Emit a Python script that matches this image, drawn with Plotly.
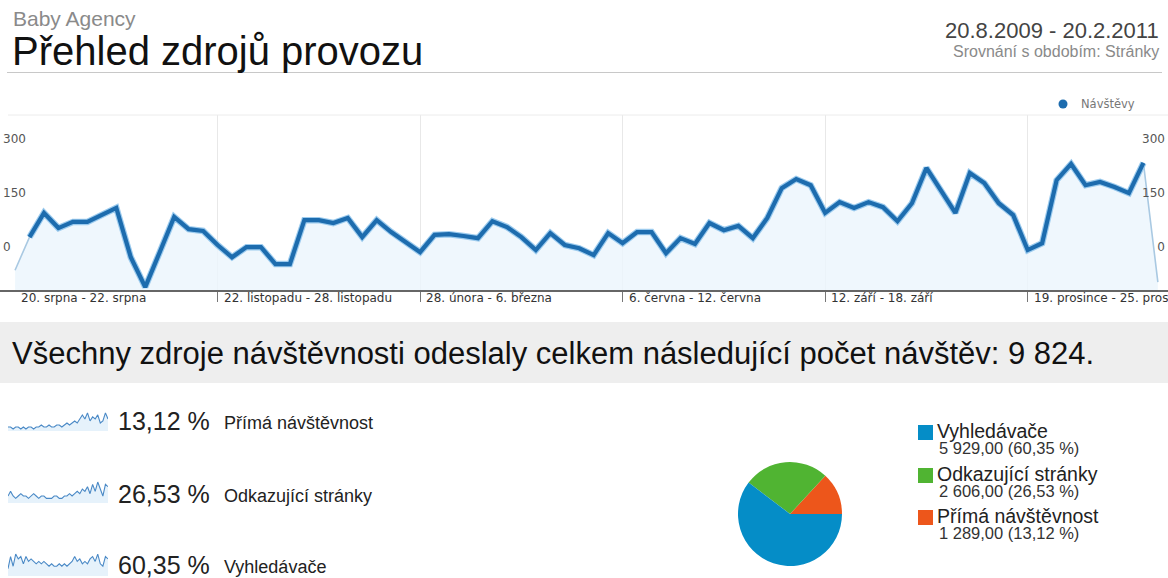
import plotly.graph_objects as go

W, H = 1168, 578

# ---------------- data ----------------
visits = [-65, 27, 94, 52, 69, 69, 88, 108, -29, -112,
          -15, 83, 49, 44, 5, -29, -1, -1, -48, -48,
          74, 74, 66, 80, 27, 74, 41, 13, -15, 33,
          35, 30, 24, 71, 55, 27, -9, 38, 5, -4,
          -23, 38, 10, 41, 41, -18, 24, 8, 66, 46,
          58, 24, 80, 163, 188, 171, 94, 124, 108, 124,
          110, 71, 121, 219, 158, 94, 205, 177, 121, 88,
          -9, 10, 185, 230, 171, 180, 166, 149, 233, -98]

period_labels = ["20. srpna - 22. srpna", "22. listopadu - 28. listopadu",
                 "28. února - 6. března", "6. června - 12. června",
                 "12. září - 18. září", "19. prosince - 25. prosince"]
period_index = [0, 14, 28, 42, 56, 70]
y_ticks = [0, 150, 300]

sources = ["Vyhledávače", "Odkazující stránky", "Přímá návštěvnost"]
source_visits = [5929, 2606, 1289]
source_values_text = ["5 929,00 (60,35 %)", "2 606,00 (26,53 %)", "1 289,00 (13,12 %)"]
source_share_text = ["60,35 %", "26,53 %", "13,12 %"]
total_text = "9 824"

spark_prima = [2, 2, 1, 2, 2, 1, 2, 1, 2, 2, 1, 2, 2, 3, 2, 2, 3, 2, 2, 3,
               3, 2, 3, 4, 3, 4, 5, 4, 6, 8, 6, 9, 5, 7, 6, 8, 4, 5, 9, 6]
spark_odkaz = [3, 5, 3, 2, 3, 4, 3, 3, 2, 3, 4, 3, 2, 3, 3, 2, 2, 2, 3, 3,
               2, 2, 3, 3, 4, 3, 4, 5, 4, 6, 5, 7, 4, 8, 5, 9, 6, 3, 8, 7]
spark_vyhled = [3, 8, 4, 9, 7, 8, 5, 8, 6, 7, 6, 5, 6, 5, 6, 5, 4, 5, 4, 4,
                5, 4, 5, 4, 5, 6, 8, 6, 7, 5, 6, 5, 7, 8, 6, 9, 5, 4, 8, 7]

# ---------------- helpers ----------------
def px(x):
    return x / W

def py(y):
    return 1 - y / H

Y_MIN, Y_MAX = -120, 366
X_MIN, X_MAX = -1.04, 79.7
BLUE = "#1d6cae"
ARIAL = "Liberation Sans, Arial, sans-serif"
VERD = "DejaVu Sans, Verdana, sans-serif"

xs = list(range(len(visits)))
fig = go.Figure()

# area fill under the line
fig.add_trace(go.Scatter(x=xs, y=[Y_MIN] * len(xs), mode="lines",
                         line=dict(width=0), hoverinfo="skip", showlegend=False))
fig.add_trace(go.Scatter(x=xs, y=visits, mode="lines", fill="tonexty",
                         fillcolor="rgba(235,245,252,0.8)", line=dict(width=0),
                         hoverinfo="skip", showlegend=False))
# partial-period (light) line
fig.add_trace(go.Scatter(x=xs, y=visits, mode="lines",
                         line=dict(color="#a9c9e2", width=1.6),
                         hoverinfo="skip", showlegend=False))
# main line with halo
fig.add_trace(go.Scatter(x=xs[1:-1], y=visits[1:-1], mode="lines",
                         line=dict(color="#9ccbee", width=6.5),
                         hoverinfo="skip", showlegend=False))
fig.add_trace(go.Scatter(x=xs[1:-1], y=visits[1:-1], mode="lines",
                         line=dict(color=BLUE, width=4.2),
                         name="Návštěvy", showlegend=False))
# invisible trace for right axis
fig.add_trace(go.Scatter(x=[xs[0]], y=[visits[0]], yaxis="y2", mode="lines",
                         line=dict(width=0), hoverinfo="skip", showlegend=False))

# sparklines
spark_rows = [(spark_prima, 412, 431), (spark_odkaz, 481, 503), (spark_vyhled, 553, 576)]
for i, (vals, top, bot) in enumerate(spark_rows):
    ax = i + 3
    fig.add_trace(go.Scatter(x=list(range(len(vals))), y=vals, mode="lines",
                             line=dict(color="#4a89c6", width=1.1),
                             fill="tozeroy", fillcolor="rgba(220,236,249,0.7)",
                             xaxis=f"x{ax}", yaxis=f"y{ax}",
                             hoverinfo="skip", showlegend=False))
    fig.layout[f"xaxis{ax}"] = dict(domain=[px(8), px(108)], visible=False,
                                    anchor=f"y{ax}", range=[0, len(vals) - 1])
    fig.layout[f"yaxis{ax}"] = dict(domain=[py(bot), py(top)], visible=False,
                                    anchor=f"x{ax}", range=[0, max(vals) * 1.05])

# pie (first slice = Přímá návštěvnost, placed in the upper-right quadrant
# just above 3 o'clock, others following counterclockwise)
pie_colors = {"Vyhledávače": "#058dc7", "Odkazující stránky": "#50b432",
              "Přímá návštěvnost": "#ed561b"}
pie_labels = sources[::-1]
pie_values = source_visits[::-1]
first_share_deg = 360 * pie_values[0] / sum(pie_values)
fig.add_trace(go.Pie(labels=pie_labels, values=pie_values,
                     marker=dict(colors=[pie_colors[s] for s in pie_labels],
                                 line=dict(width=0)),
                     sort=False, direction="counterclockwise",
                     rotation=90 - first_share_deg,
                     textinfo="none", hoverinfo="label+value+percent",
                     showlegend=False,
                     domain=dict(x=[px(738), px(842)], y=[py(566), py(462)])))

fig.update_layout(
    width=W, height=H, margin=dict(l=0, r=0, t=0, b=0),
    paper_bgcolor="white", plot_bgcolor="rgba(0,0,0,0)",
    xaxis=dict(domain=[0, 1], range=[X_MIN, X_MAX], tickvals=period_index,
               showticklabels=False, ticks="outside", ticklen=10,
               tickcolor="#777", showline=True, linecolor="#666", linewidth=1.5,
               showgrid=True, gridcolor="#e8e8e8", zeroline=False, fixedrange=True),
    yaxis=dict(domain=[py(290), py(115)], range=[Y_MIN, Y_MAX], tickvals=y_ticks,
               ticklabelposition="inside", showgrid=False, zeroline=False,
               tickfont=dict(family=VERD, size=12, color="#555"), ticks=""),
    yaxis2=dict(overlaying="y", side="right", range=[Y_MIN, Y_MAX], tickvals=y_ticks,
                ticklabelposition="inside", showgrid=False, zeroline=False,
                tickfont=dict(family=VERD, size=12, color="#555"), ticks=""),
    showlegend=False,
)

shapes = [
    dict(type="line", xref="paper", yref="paper", x0=px(7), x1=px(1162),
         y0=py(72.5), y1=py(72.5), line=dict(color="#c8c8c8", width=1)),
    dict(type="line", xref="paper", yref="paper", x0=px(8), x1=1,
         y0=py(115), y1=py(115), line=dict(color="#ececec", width=1)),
    dict(type="rect", xref="paper", yref="paper", x0=0, x1=1,
         y0=py(383), y1=py(322), fillcolor="#eeeeee", line=dict(width=0), layer="below"),
    # legend dot for the line series
    dict(type="circle", xref="paper", yref="paper", x0=px(1058.5), x1=px(1067.5),
         y0=py(108.5), y1=py(99.5), fillcolor=BLUE, line=dict(width=0)),
]

ann = []
def text(x, y, s, size, color, family=ARIAL, anchor="left"):
    ann.append(dict(xref="paper", yref="paper", x=px(x), y=py(y), text=s,
                    showarrow=False, xanchor=anchor, yanchor="middle",
                    font=dict(family=family, size=size, color=color)))

text(11, 19, "Baby Agency", 21, "#8a8a8a")
text(10, 51, "Přehled zdrojů provozu", 40, "#111")
text(1161, 30, "20.8.2009 - 20.2.2011", 22, "#444", anchor="right")
text(1161, 51, "Srovnání s obdobím: Stránky", 16, "#8a8a8a", anchor="right")

text(1079, 104, "Návštěvy", 11.5, "#777", family=VERD)

for idx, lab in zip(period_index, period_labels):
    ann.append(dict(xref="x", yref="paper", x=idx, y=py(298), text=lab,
                    showarrow=False, xanchor="left", yanchor="middle", xshift=4,
                    font=dict(family=VERD, size=12, color="#333")))

text(10, 353, "Všechny zdroje návštěvnosti odeslaly celkem následující počet návštěv: " + total_text + ".",
     31, "#111")

rows_y = [421, 494, 565]
names_for_rows = sources[::-1]
shares_for_rows = source_share_text[::-1]
for yy, nm, sh in zip(rows_y, names_for_rows, shares_for_rows):
    text(116, yy, sh, 25, "#222")
    text(222, yy + 2, nm, 18, "#222")

legend_y = [432, 475, 517]
for yy, nm, val in zip(legend_y, sources, source_values_text):
    shapes.append(dict(type="rect", xref="paper", yref="paper",
                       x0=px(918), x1=px(933), y0=py(yy + 8), y1=py(yy - 7),
                       fillcolor=pie_colors[nm], line=dict(width=0)))
    text(935, yy - 1, nm, 19.5, "#222")
    text(937, yy + 16, val, 16.5, "#333")

fig.update_layout(shapes=shapes, annotations=ann)
fig.write_html("out.html", config={"displayModeBar": False})
